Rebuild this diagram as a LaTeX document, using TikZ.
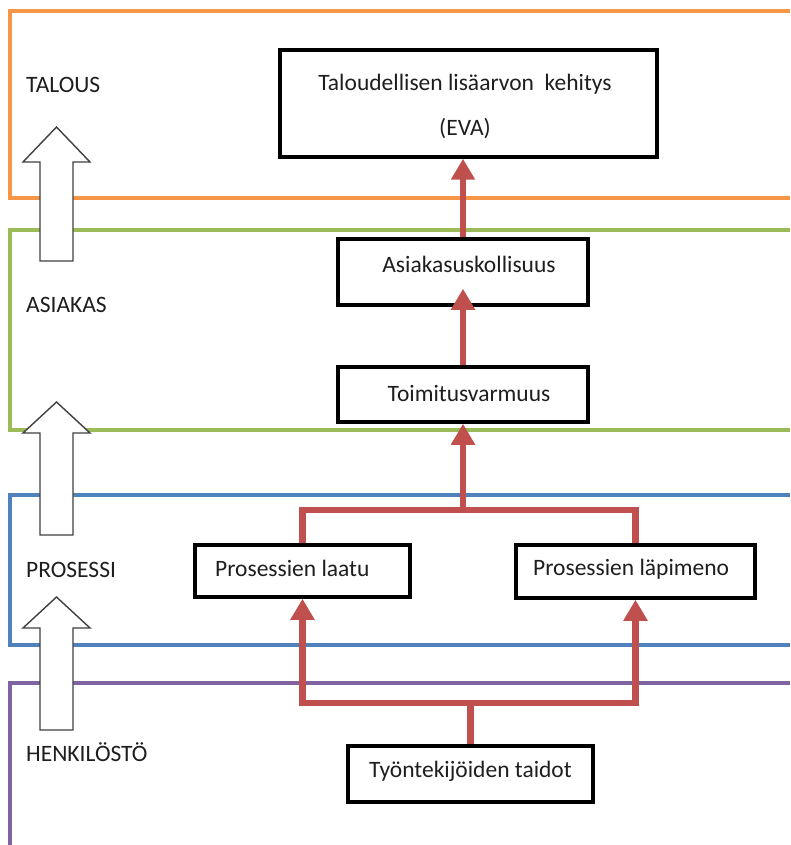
\documentclass[tikz,border=0pt]{standalone}
\usepackage{fontspec}
\setmainfont{Carlito}
\usetikzlibrary{arrows.meta}
\definecolor{layerorange}{HTML}{F79646}
\definecolor{layergreen}{HTML}{9BBB59}
\definecolor{layerblue}{HTML}{4F81BD}
\definecolor{layerpurple}{HTML}{8064A2}
\definecolor{flowred}{HTML}{C0504D}
\definecolor{inkgray}{HTML}{1E1E1E}
\definecolor{outlinegray}{HTML}{404040}

\begin{document}
\begin{tikzpicture}[x=1pt,y=-1pt,
  layer/.style={line width=3.2pt},
  stepbox/.style={draw=black, line width=3.5pt, fill=white, inner sep=0pt},
  boxtext/.style={text=inkgray, font=\fontsize{23.5}{45}\selectfont, inner sep=0pt},
  tierlabel/.style={text=inkgray, font=\fontsize{23.5}{28}\selectfont, inner sep=0pt, anchor=west},
  flow/.style={draw=flowred, line width=6.5pt, line join=miter},
  flowtip/.style={-{Triangle[length=21pt,width=23pt]}},
  upshape/.style={draw=outlinegray, fill=white, line width=1.4pt, line join=miter}
]
% page frame
\clip (0,0) rectangle (790,845);
\fill[white] (0,0) rectangle (790,845);

% layer frames, open on the right
\draw[layer, layerorange] (790,11) -- (10,11) -- (10,198) -- (790,198);
\draw[layer, layergreen] (790,230) -- (10,230) -- (10,430) -- (790,430);
\draw[layer, layerblue] (790,495) -- (10,495) -- (10,645) -- (790,645);
\draw[layer, layerpurple] (790,683) -- (10,683) -- (10,850);

% hollow upward arrows between the layers
\draw[upshape] (40,261) -- (40,162) -- (23,162) -- (56.5,127) -- (90,162) -- (73,162) -- (73,261) -- cycle;
\draw[upshape] (40,535) -- (40,433) -- (23,433) -- (56.5,402) -- (90,433) -- (73,433) -- (73,535) -- cycle;
\draw[upshape] (40,730) -- (40,628) -- (23,628) -- (56.5,597) -- (90,628) -- (73,628) -- (73,730) -- cycle;

% layer names
\node[tierlabel] (lblTalous) at (26,85) {TALOUS};
\node[tierlabel] (lblAsiakas) at (26,305) {ASIAKAS};
\node[tierlabel] (lblProsessi) at (26,570) {PROSESSI};
\node[tierlabel] (lblHenkilosto) at (26,752) {HENKILÖSTÖ};

% boxes
\node[stepbox, minimum width=377pt, minimum height=107pt] (eva) at (468.5,103.5) {};
\node[stepbox, minimum width=250pt, minimum height=66pt] (asiak) at (463,272) {};
\node[stepbox, minimum width=250pt, minimum height=55pt] (toim) at (463,394.5) {};
\node[stepbox, minimum width=215pt, minimum height=52pt] (laatu) at (302.5,571) {};
\node[stepbox, minimum width=239pt, minimum height=53pt] (lapi) at (635.5,571.5) {};
\node[stepbox, minimum width=245pt, minimum height=56pt] (tyo) at (470.5,774) {};

% box texts
\node[boxtext, align=center] (evaText) at (465,106) {Taloudellisen lisäarvon~ kehitys\\(EVA)};
\node[boxtext] (asiakText) at (469,264) {Asiakasuskollisuus};
\node[boxtext] (toimText) at (469,393) {Toimitusvarmuus};
\node[boxtext, anchor=west] (laatuText) at (215,568) {Prosessien laatu};
\node[boxtext, anchor=west] (lapiText) at (533,569) {Prosessien läpimeno};
\node[boxtext] (tyoText) at (470.5,771) {Työntekijöiden taidot};

% junction points of the connectors
\coordinate (jtop) at (463,510);
\coordinate (jbot) at (470.5,703);

% connectors
\draw[flow] (tyo.north) -- (jbot);
\draw[flow, flowtip] (jbot) -| (laatu.south);
\draw[flow, flowtip] (jbot) -| (lapi.south);
\draw[flow] (laatu.north) |- (jtop) -| (lapi.north);
\draw[flow, flowtip] (jtop) -- (toim.south);
\draw[flow, flowtip] (toim.north) -- ([yshift=18pt]asiak.south);
\draw[flow, flowtip] (asiak.north) -- (asiak.north |- eva.south);
\end{tikzpicture}
\end{document}
